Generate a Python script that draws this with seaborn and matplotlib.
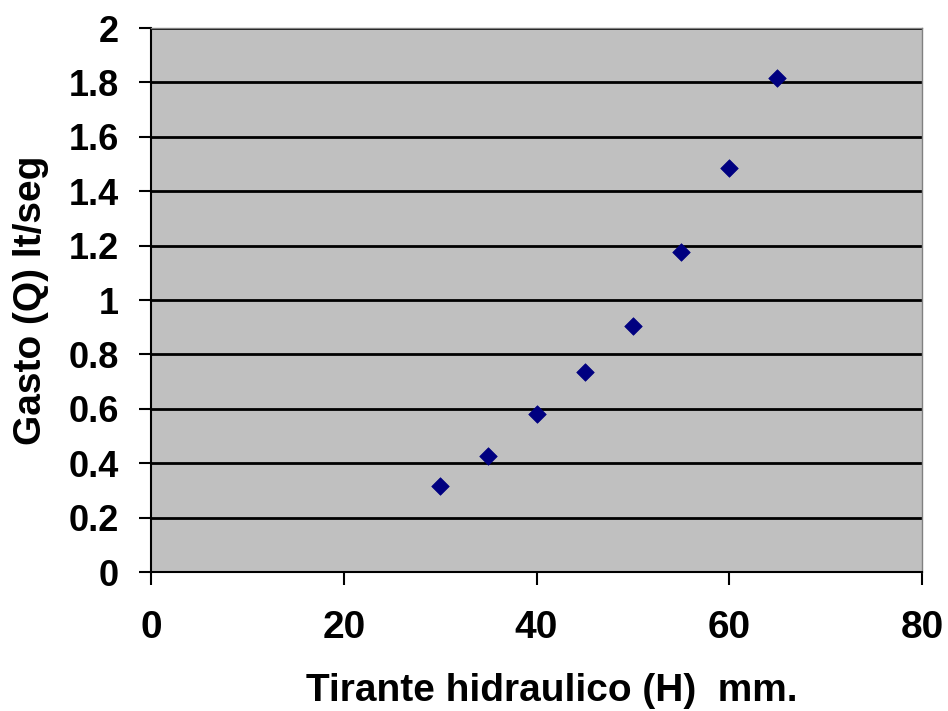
import matplotlib

matplotlib.use("Agg")
import matplotlib.pyplot as plt
import pandas as pd
import seaborn as sns

# values
tirante_mm = [30, 35, 40, 45, 50, 55, 60, 65]
gasto_lps = [0.317, 0.426, 0.580, 0.736, 0.905, 1.175, 1.485, 1.816]

x_ticks = [0, 20, 40, 60, 80]
y_ticks = [0, 0.2, 0.4, 0.6, 0.8, 1, 1.2, 1.4, 1.6, 1.8, 2]
y_labels = ["0", "0.2", "0.4", "0.6", "0.8", "1", "1.2", "1.4", "1.6", "1.8", "2"]

df = pd.DataFrame({"H": tirante_mm, "Q": gasto_lps})

sns.set_theme(style="white")
plt.rcParams["font.family"] = ["Liberation Sans", "DejaVu Sans"]
plt.rcParams["text.color"] = "black"

fig = plt.figure(figsize=(9.48, 7.11), dpi=100)
ax = fig.add_axes([151 / 948, 1 - 572 / 711, (922 - 151) / 948, (572 - 28) / 711])
ax.set_facecolor("#C0C0C0")

sns.scatterplot(data=df, x="H", y="Q", marker="D", s=80, color="#000080",
                edgecolor="#000080", linewidth=0.5, ax=ax, zorder=3)

ax.set_xlim(0, 80)
ax.set_ylim(0, 2)
ax.set_xticks(x_ticks)
ax.set_yticks(y_ticks)
ax.set_yticklabels(y_labels)
ax.yaxis.grid(True, color="black", linewidth=2)
ax.set_axisbelow(True)

for side in ["top", "right"]:
    ax.spines[side].set_color("#808080")
    ax.spines[side].set_linewidth(1)
for side in ["left", "bottom"]:
    ax.spines[side].set_color("black")
    ax.spines[side].set_linewidth(1.5)

ax.tick_params(axis="both", direction="out", length=9, width=1.5, colors="black",
               labelcolor="black", bottom=True, left=True)
ax.tick_params(axis="x", pad=18, labelsize=28)
ax.tick_params(axis="y", pad=14, labelsize=26)
for lab in ax.get_xticklabels() + ax.get_yticklabels():
    lab.set_fontweight("bold")

ax.set_xlabel("Tirante hidraulico (H)  mm.", fontsize=28, fontweight="bold",
              color="black")
ax.xaxis.set_label_coords(0.52, -0.185)
ax.set_ylabel("Gasto (Q) lt/seg", fontsize=28, fontweight="bold",
              labelpad=14, color="black")

fig.savefig("out.png", dpi=100)
